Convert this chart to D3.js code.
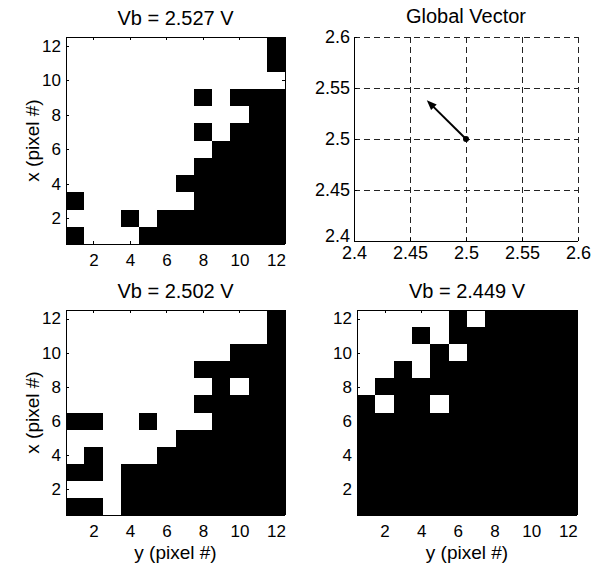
<!DOCTYPE html>
<html>
<head>
<meta charset="utf-8">
<script src="https://cdn.jsdelivr.net/npm/d3@7"></script>
<style>
  body { margin: 0; background: #fff; }
  svg { display: block; font-family: "Liberation Sans", Arial, sans-serif; }
</style>
</head>
<body>
<svg id="chart" width="603" height="569"></svg>
<script>
// binary pixel images, 1 = white, 0 = black
// rows listed from x = 12 (top) down to x = 1, columns are y = 1..12
var img2527 = [
  [1,1,1,1,1,1,1,1,1,1,1,0],
  [1,1,1,1,1,1,1,1,1,1,1,0],
  [1,1,1,1,1,1,1,1,1,1,1,1],
  [1,1,1,1,1,1,1,0,1,0,0,0],
  [1,1,1,1,1,1,1,1,1,1,0,0],
  [1,1,1,1,1,1,1,0,1,0,0,0],
  [1,1,1,1,1,1,1,1,0,0,0,0],
  [1,1,1,1,1,1,1,0,0,0,0,0],
  [1,1,1,1,1,1,0,0,0,0,0,0],
  [0,1,1,1,1,1,1,0,0,0,0,0],
  [1,1,1,0,1,0,0,0,0,0,0,0],
  [0,1,1,1,0,0,0,0,0,0,0,0]
];
var img2502 = [
  [1,1,1,1,1,1,1,1,1,1,1,0],
  [1,1,1,1,1,1,1,1,1,1,1,0],
  [1,1,1,1,1,1,1,1,1,0,0,0],
  [1,1,1,1,1,1,1,0,0,0,0,0],
  [1,1,1,1,1,1,1,1,0,1,0,0],
  [1,1,1,1,1,1,1,0,0,0,0,0],
  [0,0,1,1,0,1,1,1,0,0,0,0],
  [1,1,1,1,1,1,0,0,0,0,0,0],
  [1,0,1,1,1,0,0,0,0,0,0,0],
  [0,0,1,0,0,0,0,0,0,0,0,0],
  [1,1,1,0,0,0,0,0,0,0,0,0],
  [0,0,1,0,0,0,0,0,0,0,0,0]
];
var img2449 = [
  [1,1,1,1,1,0,1,0,0,0,0,0],
  [1,1,1,0,1,0,0,0,0,0,0,0],
  [1,1,1,1,0,1,0,0,0,0,0,0],
  [1,1,0,1,0,0,0,0,0,0,0,0],
  [1,0,0,0,0,0,0,0,0,0,0,0],
  [0,1,0,0,1,0,0,0,0,0,0,0],
  [0,0,0,0,0,0,0,0,0,0,0,0],
  [0,0,0,0,0,0,0,0,0,0,0,0],
  [0,0,0,0,0,0,0,0,0,0,0,0],
  [0,0,0,0,0,0,0,0,0,0,0,0],
  [0,0,0,0,0,0,0,0,0,0,0,0],
  [0,0,0,0,0,0,0,0,0,0,0,0]
];
var pixTicks = [2, 4, 6, 8, 10, 12];
var vecTicks = [2.4, 2.45, 2.5, 2.55, 2.6];
var vecStart = [2.5, 2.5];
var vecEnd = [2.465, 2.538];

const svg = d3.select("#chart");

function fmtTick(d) { return String(+d.toFixed(2)); }

function drawAxes(g, x, y, w, h, xt, yt, fs, padX, padY, fullBox) {
  g.append("g").attr("transform", `translate(0,${h})`)
    .call(d3.axisBottom(x).tickValues(xt).tickSize(-3).tickSizeOuter(0).tickPadding(padX).tickFormat(fmtTick));
  g.append("g").attr("class", "yax")
    .call(d3.axisLeft(y).tickValues(yt).tickSize(-3).tickSizeOuter(0).tickPadding(padY).tickFormat(fmtTick));
  if (fullBox) {
    g.append("g")
      .call(d3.axisTop(x).tickValues(xt).tickSize(-3).tickSizeOuter(0).tickFormat(""));
    g.append("g").attr("transform", `translate(${w},0)`)
      .call(d3.axisRight(y).tickValues(yt).tickSize(-3).tickSizeOuter(0).tickFormat(""));
  }
  g.selectAll(".domain").remove();
  g.selectAll(".tick line").attr("stroke", "#000").attr("shape-rendering", "crispEdges");
  g.selectAll(".tick text").attr("font-size", fs).attr("font-family", "Liberation Sans, Arial, sans-serif").attr("fill", "#000");
  const edges = fullBox
    ? [[0, 0, w, 0], [w, 0, w, h], [0, h, w, h], [0, 0, 0, h]]
    : [[0, h, w, h], [0, 0, 0, h]];
  g.selectAll("line.edge").data(edges).enter().append("line")
    .attr("class", "edge")
    .attr("x1", d => d[0]).attr("y1", d => d[1]).attr("x2", d => d[2]).attr("y2", d => d[3])
    .attr("stroke", "#000").attr("stroke-width", 1).attr("shape-rendering", "crispEdges");
}

function pixelPanel(data, left, top, right, bottom, title, xlab, ylab) {
  const w = right - left, h = bottom - top;
  const g = svg.append("g").attr("transform", `translate(${left},${top})`);
  const x = d3.scaleLinear().domain([0.5, 12.5]).range([0, w]);
  const y = d3.scaleLinear().domain([0.5, 12.5]).range([h, 0]);
  const cells = [];
  data.forEach((row, i) => row.forEach((v, j) => cells.push({ r: 12 - i, c: j + 1, v: v })));
  g.selectAll("rect.cell").data(cells).enter().append("rect")
    .attr("class", "cell")
    .attr("x", d => x(d.c - 0.5))
    .attr("y", d => y(d.r + 0.5))
    .attr("width", d => x(d.c + 0.5) - x(d.c - 0.5))
    .attr("height", d => y(d.r - 0.5) - y(d.r + 0.5))
    .attr("shape-rendering", "crispEdges")
    .attr("fill", d => d.v ? "#fff" : "#000");
  drawAxes(g, x, y, w, h, pixTicks, pixTicks, 17, 10, 5, true);
  g.append("text").attr("x", w / 2).attr("y", -12).attr("text-anchor", "middle")
    .attr("font-size", 20).text(title);
  if (xlab) g.append("text").attr("x", w / 2).attr("y", h + 44).attr("text-anchor", "middle")
    .attr("font-size", 19).text(xlab);
  if (ylab) g.append("text").attr("transform", `translate(-27,${h / 2}) rotate(-90)`)
    .attr("text-anchor", "middle").attr("font-size", 19).text(ylab);
}

pixelPanel(img2527, 66, 37, 285, 244, "Vb = 2.527 V", null, "x (pixel #)");
pixelPanel(img2502, 66, 310, 285, 515, "Vb = 2.502 V", "y (pixel #)", "x (pixel #)");
pixelPanel(img2449, 357, 310, 577, 515, "Vb = 2.449 V", "y (pixel #)", null);

// global vector panel
(function () {
  const left = 354, top = 37, right = 578, bottom = 241;
  const w = right - left, h = bottom - top;
  const g = svg.append("g").attr("transform", `translate(${left},${top})`);
  const x = d3.scaleLinear().domain([2.4, 2.6]).range([0, w]);
  const y = d3.scaleLinear().domain([2.4, 2.6]).range([h, 0]);
  const grid = g.append("g").attr("stroke", "#222").attr("stroke-width", 1)
    .attr("stroke-dasharray", "6,4").attr("shape-rendering", "crispEdges");
  grid.selectAll("line.gx").data(vecTicks.slice(1)).enter().append("line")
    .attr("x1", d => x(d)).attr("x2", d => x(d)).attr("y1", 0).attr("y2", h);
  grid.selectAll("line.gy").data(vecTicks.slice(1)).enter().append("line")
    .attr("y1", d => y(d)).attr("y2", d => y(d)).attr("x1", 0).attr("x2", w);
  drawAxes(g, x, y, w, h, vecTicks, vecTicks, 18, 5, 4, false);
  // lowest y label sits a little above its tick, clear of the x labels
  g.select(".yax").selectAll(".tick text").filter(d => d === vecTicks[0]).attr("dy", "0.02em");

  const x0 = x(vecStart[0]), y0 = y(vecStart[1]), x1 = x(vecEnd[0]), y1 = y(vecEnd[1]);
  const ang = Math.atan2(y1 - y0, x1 - x0);
  const hl = 10, hw = 4;
  const bx = x1 - hl * Math.cos(ang), by = y1 - hl * Math.sin(ang);
  g.append("line").attr("x1", x0).attr("y1", y0).attr("x2", bx + 2 * Math.cos(ang)).attr("y2", by + 2 * Math.sin(ang))
    .attr("stroke", "#000").attr("stroke-width", 2);
  g.append("path")
    .attr("d", `M${x1},${y1}L${bx - hw * Math.sin(ang)},${by + hw * Math.cos(ang)}L${bx + hw * Math.sin(ang)},${by - hw * Math.cos(ang)}Z`)
    .attr("fill", "#000");
  g.append("circle").attr("cx", x0).attr("cy", y0).attr("r", 3).attr("fill", "#000");
  g.append("text").attr("x", w / 2).attr("y", -14).attr("text-anchor", "middle")
    .attr("font-size", 20).text("Global Vector");
})();
</script>
</body>
</html>
